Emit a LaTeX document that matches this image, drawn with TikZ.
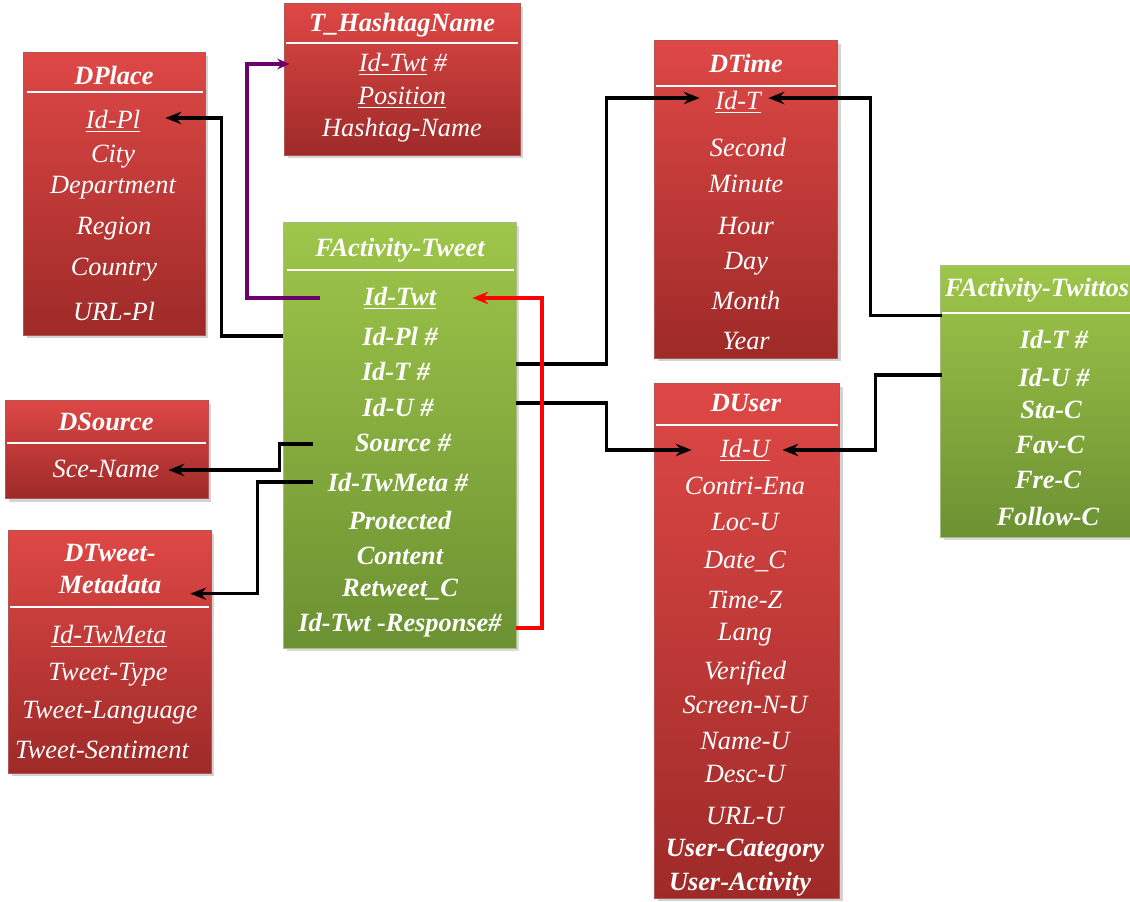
\documentclass[tikz,border=0pt]{standalone}
\usepackage{fontspec}
\setmainfont{Liberation Serif}
\usepackage{tikz}
\usetikzlibrary{calc,shadows,arrows.meta}

\definecolor{redtop}{RGB}{222,72,70}
\definecolor{redbot}{RGB}{158,42,40}
\definecolor{grtop}{RGB}{158,198,74}
\definecolor{grbot}{RGB}{108,145,50}

\tikzset{
	dimtab/.style={rectangle, inner sep=0, draw=redbot!80!white, top color=redtop, bottom color=redbot,
		drop shadow={opacity=0.35, shadow xshift=2pt, shadow yshift=-2pt}},
	facttab/.style={rectangle, inner sep=0, draw=grbot!60!white, top color=grtop, bottom color=grbot,
		drop shadow={opacity=0.3, shadow xshift=2pt, shadow yshift=-2pt}},
	hline/.style={white, line width=1.2pt},
	tname/.style={text=white, font=\fontsize{15}{18}\selectfont\bfseries\itshape},
	attr/.style={text=white, font=\fontsize{15}{17}\selectfont\itshape},
	attrb/.style={text=white, font=\fontsize{15}{17}\selectfont\bfseries\itshape},
	lnk/.style={line width=1.8pt, -{Stealth[length=9pt,width=7pt]}},
}

\begin{document}
\begin{tikzpicture}[x=0.02cm, y=-0.02cm]
	\useasboundingbox (0,0) rectangle (1130,902);

	% tables
	\node[dimtab, minimum width=3.64cm, minimum height=5.66cm] (pl) at (114,193.5) {};
	\node[dimtab, minimum width=4.72cm, minimum height=3.04cm] (ht) at (402,79) {};
	\node[facttab, minimum width=4.66cm, minimum height=8.52cm] (tw) at (399.5,435) {};
	\node[dimtab, minimum width=3.66cm, minimum height=6.36cm] (tm) at (745.5,199) {};
	\node[dimtab, minimum width=3.70cm, minimum height=10.3cm] (us) at (746.5,640.5) {};
	\node[facttab, minimum width=3.80cm, minimum height=5.44cm] (ta) at (1035,401) {};
	\node[dimtab, minimum width=4.06cm, minimum height=1.96cm] (ds) at (106.5,449) {};
	\node[dimtab, minimum width=4.06cm, minimum height=4.86cm] (dm) at (109.5,651.5) {};

	% header lines
	\draw[hline] ($(pl.north west)+(4,40)$) -- ($(pl.north east)+(-2,40)$);
	\draw[hline] ($(ht.north west)+(2,40)$) -- ($(ht.north east)+(-2,40)$);
	\draw[hline] ($(tw.north west)+(4,48)$) -- ($(tw.north east)+(-2,48)$);
	\draw[hline] ($(tm.north west)+(2,46)$) -- ($(tm.north east)+(-1,46)$);
	\draw[hline] ($(us.north west)+(2,42)$) -- ($(us.north east)+(-1,42)$);
	\draw[hline] ($(ta.north west)+(2,48)$) -- ($(ta.north east)+(0,48)$);
	\draw[hline] ($(ds.north west)+(2,43)$) -- ($(ds.north east)+(-2,43)$);
	\draw[hline] ($(dm.north west)+(2,77)$) -- ($(dm.north east)+(-2,77)$);

	% DPlace
	\node[tname] (pl-t) at (114,75) {DPlace};
	\node[attr] (pl-id) at (113,121) {\underline{Id-Pl}};
	\node[attr] (pl-city) at (113,157) {City};
	\node[attr] (pl-dep) at (113,188) {Department};
	\node[attr] (pl-reg) at (114,229) {Region};
	\node[attr] (pl-cty) at (114,270) {Country};
	\node[attr] (pl-url) at (114,311) {URL-Pl};

	% T_HashtagName
	\node[tname] (ht-t) at (402,25) {T\_HashtagName};
	\node[attr] (ht-idtwt) at (403,64) {\underline{Id-Twt} \#};
	\node[attr] (ht-pos) at (402,98) {\underline{Position}};
	\node[attr] (ht-name) at (402,130) {Hashtag-Name};

	% FActivity-Tweet
	\node[tname] (tw-t) at (400,250) {FActivity-Tweet};
	\node[attrb] (tw-idtwt) at (400,298) {\underline{Id-Twt}};
	\node[attrb] (tw-idpl) at (400,336) {Id-Pl \#};
	\node[attrb] (tw-idt) at (396,371) {Id-T \#};
	\node[attrb] (tw-idu) at (398,407) {Id-U \#};
	\node[attrb] (tw-src) at (403,443) {Source \#};
	\node[attrb] (tw-meta) at (398,482) {Id-TwMeta \#};
	\node[attrb] (tw-prot) at (400,520) {Protected};
	\node[attrb] (tw-cont) at (400,556) {Content};
	\node[attrb] (tw-rt) at (400,590) {Retweet\_C};
	\node[attrb] (tw-resp) at (400,625) {Id-Twt -Response\#};

	% DTime
	\node[tname] (tm-t) at (746,63) {DTime};
	\node[attr] (tm-id) at (738,102) {\underline{Id-T}};
	\node[attr] (tm-sec) at (748,147) {Second};
	\node[attr] (tm-min) at (746,184) {Minute};
	\node[attr] (tm-hour) at (746,226) {Hour};
	\node[attr] (tm-day) at (746,264) {Day};
	\node[attr] (tm-mon) at (746,300) {Month};
	\node[attr] (tm-year) at (746,341) {Year};

	% DUser
	\node[tname] (us-t) at (746,403) {DUser};
	\node[attr] (us-id) at (745,450) {\underline{Id-U}};
	\node[attr] (us-ena) at (745,486) {Contri-Ena};
	\node[attr] (us-loc) at (745,522) {Loc-U};
	\node[attr] (us-date) at (745,561) {Date\_C};
	\node[attr] (us-tz) at (745,600) {Time-Z};
	\node[attr] (us-lang) at (745,635) {Lang};
	\node[attr] (us-ver) at (745,673) {Verified};
	\node[attr] (us-scr) at (745,705) {Screen-N-U};
	\node[attr] (us-name) at (745,741) {Name-U};
	\node[attr] (us-desc) at (745,774) {Desc-U};
	\node[attr] (us-url) at (745,816) {URL-U};
	\node[attrb] (us-cat) at (745,851) {User-Category};
	\node[attrb] (us-act) at (740,884) {User-Activity};

	% FActivity-Twittos
	\node[tname] (ta-t) at (1037,290) {FActivity-Twittos};
	\node[attrb] (ta-idt) at (1054,339) {Id-T \#};
	\node[attrb] (ta-idu) at (1054,377) {Id-U \#};
	\node[attrb] (ta-sta) at (1051,410) {Sta-C};
	\node[attrb] (ta-fav) at (1050,445) {Fav-C};
	\node[attrb] (ta-fre) at (1048,480) {Fre-C};
	\node[attrb] (ta-fol) at (1048,516) {Follow-C};

	% DSource
	\node[tname] (ds-t) at (106,422) {DSource};
	\node[attr] (ds-name) at (106,469) {Sce-Name};

	% DTweet-Metadata
	\node[tname, align=center] (dm-t) at (110,569) {DTweet-\\Metadata};
	\node[attr] (dm-id) at (109,636) {\underline{Id-TwMeta}};
	\node[attr] (dm-type) at (108,675) {Tweet-Type};
	\node[attr] (dm-lang) at (110,713) {Tweet-Language};
	\node[attr] (dm-sent) at (102,750) {Tweet-Sentiment};

	% links
	\draw[lnk, line width=2.2pt, violet!85!black, -{Stealth[length=7pt,width=6pt]}] ($(tw.west |- tw-idtwt)+(37,0)$) -- ++(-73,0) |- ($(ht.west |- ht-idtwt)+(6,0)$); % Id-Twt -> hashtag
	\draw[lnk] (tw.west |- tw-idpl) -- ++(-61,0) |- ($(pl.east |- pl-id)+(-40,-3)$); % Id-Pl
	\draw[lnk] ($(tw.east |- tw-idt)+(0,-7)$) -- ++(90,0) |- ($(tm.west |- tm-id)+(46,-4)$); % Id-T
	\draw[lnk] ($(tw.east |- tw-idu)+(0,-4)$) -- ++(90,0) |- ($(us.west |- us-id)+(38,0)$); % Id-U
	\draw[lnk, line width=2.4pt, red] ($(tw.east |- tw-resp)+(0,3)$) -- ++(26,0) |- ($(tw.east |- tw-idtwt)+(-44,0)$); % reponse
	\draw[lnk] ($(ta.north west)+(2,51)$) -- ++(-71,0) |- ($(tm.east |- tm-id)+(-69,-4)$); % twittos Id-T
	\draw[lnk] ($(ta.west |- ta-idu)+(2,-2)$) -- ++(-66,0) |- ($(us.east |- us-id)+(-57,0)$); % twittos Id-U
	\draw[lnk] ($(tw.west |- tw-src)+(30,1)$) -- ++(-33,0) |- ($(ds.east |- ds-name)+(-40,1)$); % source
	\draw[lnk] ($(tw.west |- tw-meta)+(30,0)$) -- ++(-55,0) |- ($(dm.north east)+(-21,64)$); % metadata
\end{tikzpicture}
\end{document}
